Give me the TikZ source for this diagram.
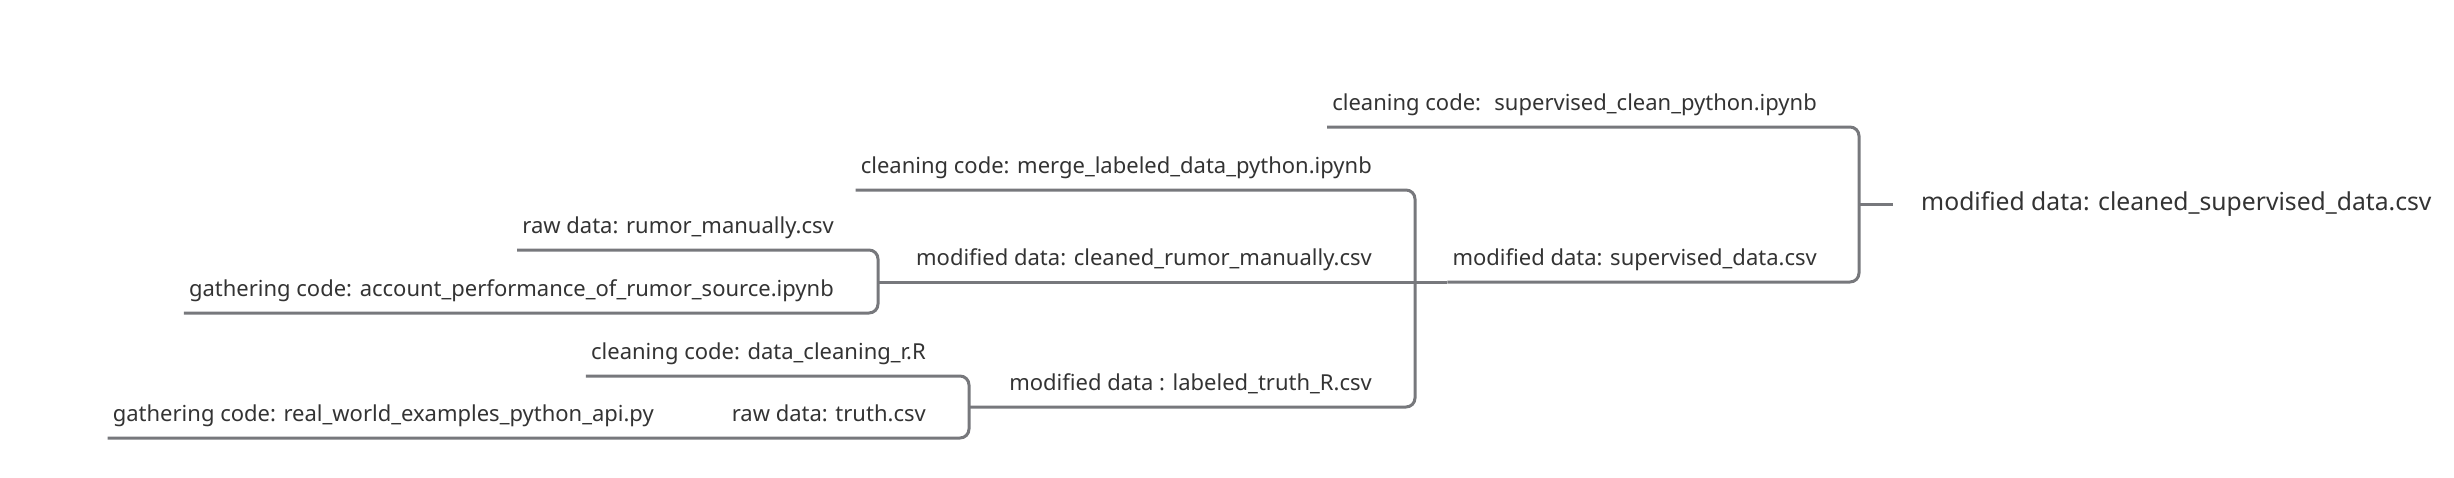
\documentclass[tikz,border=0pt]{standalone}
\usepackage{fontspec}
\setmainfont{Noto Sans}
\definecolor{linegray}{HTML}{77787C}
\definecolor{txtgray}{HTML}{333333}

\begin{document}
\begin{tikzpicture}[x=1pt, y=-1pt,
	lbl/.style={anchor=base east, inner sep=0pt, text=txtgray,
		font=\fontsize{22}{26}\selectfont},
	edge/.style={draw=linegray, line width=3pt, rounded corners=9pt}]
	\useasboundingbox (0,0) rectangle (2454,477);
	% labels, right aligned on their underline
	\node[lbl, anchor=west, font=\fontsize{24.7}{29}\selectfont] (root) at (1921,204) {modified data: cleaned\_supervised\_data.csv};
	\node[lbl] (sup-clean) at (1817,110) {cleaning code:~ supervised\_clean\_python.ipynb};
	\node[lbl] (sup-data) at (1817,265) {modified data: supervised\_data.csv};
	\node[lbl] (merge) at (1372,173) {cleaning code: merge\_labeled\_data\_python.ipynb};
	\node[lbl] (rumor-clean) at (1372,265) {modified data: cleaned\_rumor\_manually.csv};
	\node[lbl] (truth-lab) at (1372,390) {modified data : labeled\_truth\_R.csv};
	\node[lbl] (rumor-raw) at (834,233) {raw data: rumor\_manually.csv};
	\node[lbl] (rumor-gather) at (834,296) {gathering code: account\_performance\_of\_rumor\_source.ipynb};
	\node[lbl] (r-clean) at (926,359) {cleaning code: data\_cleaning\_r.R};
	\node[lbl] (truth-raw) at (926,421) {raw data: truth.csv};
	\node[lbl] (truth-gather) at (654,421) {gathering code: real\_world\_examples\_python\_api.py};
	% bracket joints
	\coordinate (k1) at (1859,204);
	\coordinate (k2) at (1415,282);
	\coordinate (k3) at (878,282);
	\coordinate (k4) at (969,407);
	\foreach \n in {sup-clean, sup-data, merge, rumor-raw, rumor-gather, r-clean, truth-raw, truth-gather}
		\coordinate (\n-l) at ([shift={(-5,17)}]\n.base west);
	\draw[edge] (sup-clean-l) -| (k1) |- (sup-data-l);
	\draw[edge] (k1) -- ([xshift=-28]root.west);
	\draw[edge] (sup-data-l) -- (k3);
	\draw[edge] (merge-l) -| (k2) |- (k4);
	\draw[edge] (rumor-raw-l) -| (k3) |- (rumor-gather-l);
	\draw[edge] (r-clean-l) -| (k4) |- (truth-raw-l) -- (truth-gather-l);
\end{tikzpicture}
\end{document}
